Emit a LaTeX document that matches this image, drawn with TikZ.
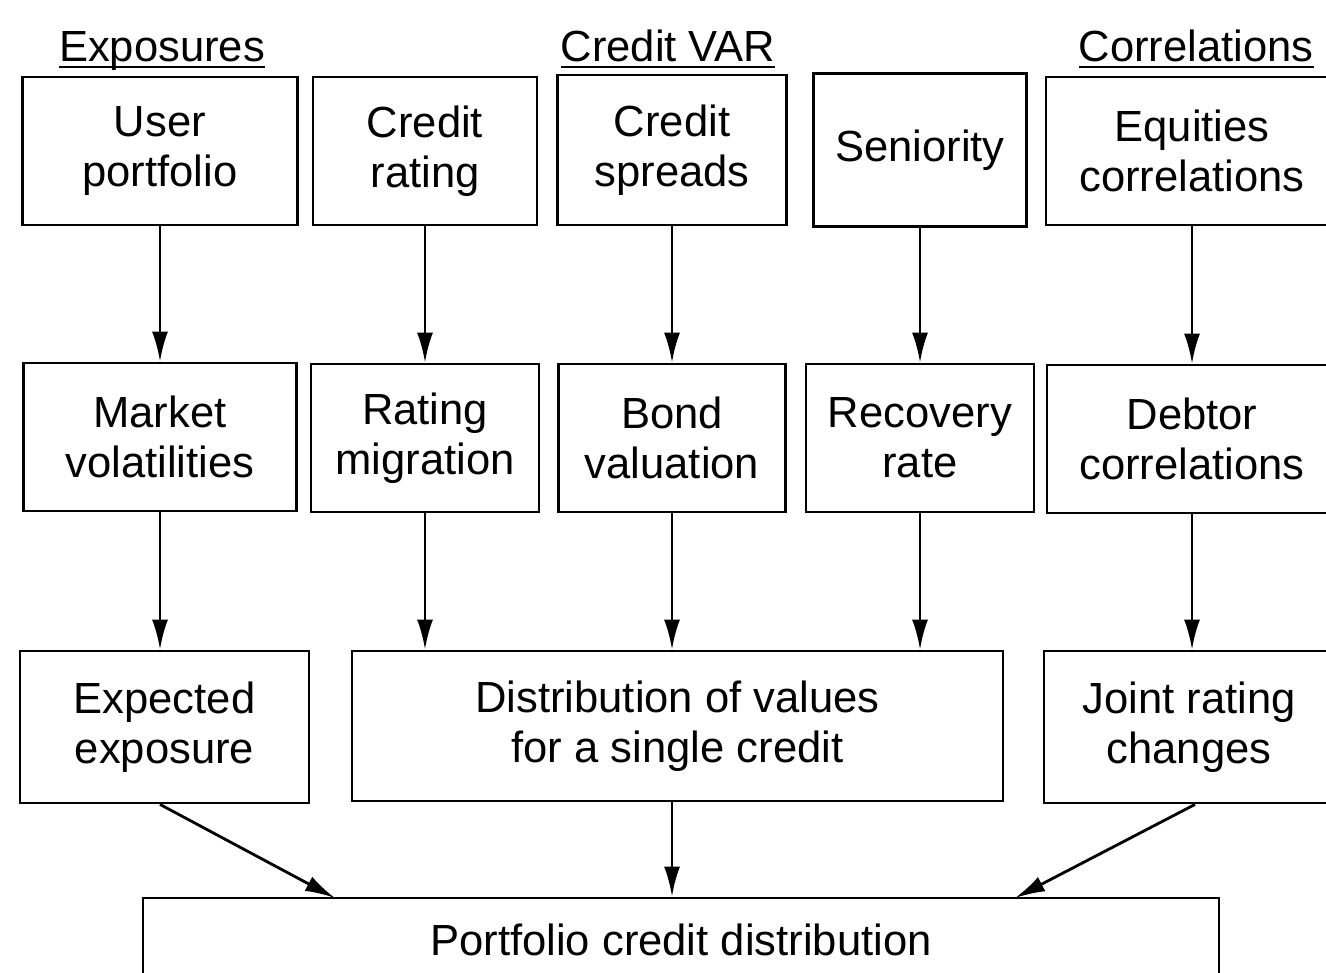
\documentclass[tikz,border=0pt]{standalone}
\usepackage{fontspec}
\setmainfont{Liberation Sans}
\usetikzlibrary{arrows.meta}

\begin{document}
\begin{tikzpicture}[
  block/.style={rectangle, draw, line width=0.8pt, align=center, inner sep=0pt, minimum height=1.48cm,
    font=\fontsize{12.4}{14.2}\selectfont},
  head/.style={anchor=base, font=\fontsize{12.4}{14.2}\selectfont},
  line/.style={draw, line width=0.8pt, -{Latex[length=3mm,width=1.6mm]}}]
  \useasboundingbox (0,0) rectangle (13.26,9.72);
  \clip (0,0) rectangle (13.26,9.72);

  % Column headings
  \node [head] (hexp) at (1.62,9.10) {\underline{\smash{Exposures}}};
  \node [head] (hvar) at (6.68,9.10) {\underline{\smash{Credit VAR}}};
  \node [head] (hcor) at (11.96,9.10) {\underline{\smash{Correlations}}};

  % Top row
  \node [block, minimum width=2.75cm] (user) at (1.60,8.21) {User\\portfolio};
  \node [block, minimum width=2.24cm] (rating) at (4.25,8.21) {Credit\\rating};
  \node [block, minimum width=2.29cm, minimum height=1.50cm] (spreads) at (6.72,8.22) {Credit\\spreads};
  \node [block, minimum width=2.13cm, minimum height=1.53cm] (senior) at (9.20,8.22) {Seniority};
  \node [block, minimum width=2.92cm] (equity) at (11.92,8.21) {Equities\\correlations};

  % Middle row
  \node [block, minimum width=2.73cm] (vol) at (1.60,5.35) {Market\\volatilities};
  \node [block, minimum width=2.28cm] (migr) at (4.25,5.34) {Rating\\migration};
  \node [block, minimum width=2.27cm] (bond) at (6.72,5.34) {Bond\\valuation};
  \node [block, minimum width=2.28cm] (recov) at (9.20,5.34) {Recovery\\rate};
  \node [block, minimum width=2.90cm] (debtor) at (11.92,5.33) {Debtor\\correlations};

  % Bottom row
  \node [block, minimum width=2.89cm, minimum height=1.52cm] (expexp) at (1.645,2.45) {Expected\\exposure};
  \node [block, minimum width=6.51cm, minimum height=1.50cm] (single) at (6.775,2.46) {Distribution of values\\for a single credit};
  \node [block, minimum width=2.90cm, minimum height=1.52cm] (joint) at (11.89,2.45) {Joint rating\\changes};
  \node [block, minimum width=10.76cm, minimum height=0.84cm] (port) at (6.81,0.32) {Portfolio credit distribution};

  \coordinate (inL) at (3.35,0.74);
  \coordinate (inR) at (10.15,0.74);

  \path [line] (user) -- (vol);
  \path [line] (rating) -- (migr);
  \path [line] (spreads) -- (bond);
  \path [line] (senior) -- (recov);
  \path [line] (equity) -- (debtor);
  \path [line] (vol) -- (expexp.north -| vol);
  \path [line] (migr) -- (single.north -| migr);
  \path [line] (bond) -- (single.north -| bond);
  \path [line] (recov) -- (single.north -| recov);
  \path [line] (debtor) -- (joint.north -| debtor);
  \path [line] (expexp.south -| vol) -- (inL);
  \path [line] (single.south -| bond) -- (port.north -| bond);
  \path [line] (joint.south -| 11.95,0) -- (inR);
\end{tikzpicture}
\end{document}
